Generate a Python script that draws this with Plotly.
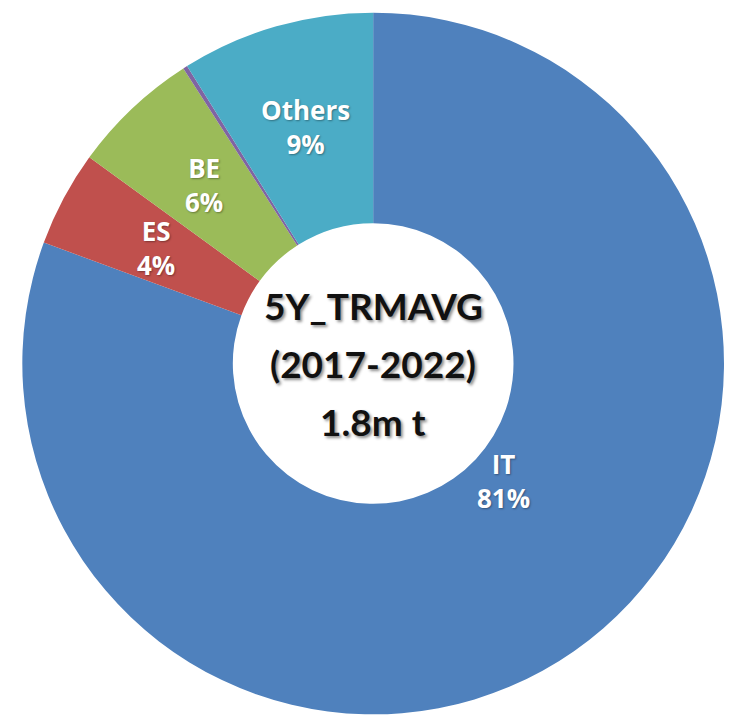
import numpy as np
import plotly.graph_objects as go

# slice data, read clockwise from 12 o'clock
countries = ["IT", "ES", "BE", "", "Others"]
shares = [80.6, 4.4, 5.9, 0.2, 8.9]
colors = ["#4F81BD", "#C0504D", "#9BBB59", "#8064A2", "#4BACC6"]
center_lines = ["5Y_TRMAVG", "(2017-2022)", "1.8m t"]

W, H = 732, 727
dom_x = [0.02, 1]
hole = 0.40

fig = go.Figure(go.Pie(
    labels=[c if c else "n/a" for c in countries],
    values=shares,
    textinfo="none",
    marker=dict(colors=colors, line=dict(width=0)),
    hole=hole,
    sort=False,
    direction="clockwise",
    rotation=0,
    domain=dict(x=dom_x, y=[0, 1]),
    showlegend=False,
    hoverinfo="label+percent",
))

# slice labels at the middle of the ring (IT label sits nearer the hole, as in the source)
cx = (dom_x[0] + dom_x[1]) / 2 * W
cy = H / 2
R = min((dom_x[1] - dom_x[0]) * W, H) / 2
overrides = {"IT": (132, 0.50)}
total = sum(shares)
start = 0.0
for c, s in zip(countries, shares):
    ang = 360 * s / total
    mid = start + ang / 2
    start += ang
    if not c:
        continue
    a, rf = overrides.get(c, (mid, (1 + hole) / 2))
    px = cx + rf * R * np.sin(np.radians(a))
    py = cy - rf * R * np.cos(np.radians(a))
    fig.add_annotation(
        x=px / W, y=1 - py / H, xref="paper", yref="paper",
        xanchor="center", yanchor="middle",
        text=f"{c}<br>{round(s)}%", showarrow=False,
        font=dict(family="Open Sans", size=26, color="white", weight="bold",
                  shadow="1px 1px 2px rgba(0,0,0,0.35)"),
    )

# centre caption, one annotation per line
for i, line in enumerate(center_lines):
    fig.add_annotation(
        x=cx / W, y=0.5, xref="paper", yref="paper",
        xanchor="center", yanchor="middle",
        text=line, showarrow=False,
        yshift=(1 - i) * 58,
        font=dict(family="Lato", size=37, color="#111111", weight="bold",
                  shadow="2px 2px 3px rgba(0,0,0,0.45)"),
    )

fig.update_layout(
    margin=dict(l=0, r=0, t=0, b=0),
    paper_bgcolor="white",
    plot_bgcolor="white",
)

fig.write_html("out.html")
